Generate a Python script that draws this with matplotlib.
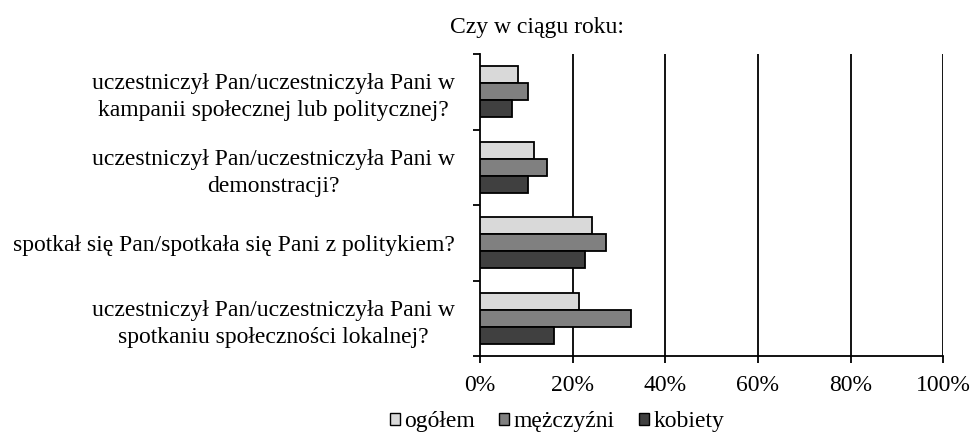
import numpy as np
import matplotlib.pyplot as plt
from matplotlib.patches import Patch

plt.rcParams['font.family'] = ['Liberation Serif', 'DejaVu Serif']

# categories, top to bottom
categories = [
    "uczestniczył Pan/uczestniczyła Pani w\nkampanii społecznej lub politycznej?",
    "uczestniczył Pan/uczestniczyła Pani w\ndemonstracji?",
    "spotkał się Pan/spotkała się Pani z politykiem?",
    "uczestniczył Pan/uczestniczyła Pani w\nspotkaniu społeczności lokalnej?",
]
series_names = ["ogółem", "mężczyźni", "kobiety"]
ogolem = [8.1, 11.7, 24.1, 21.3]
mezczyzni = [10.3, 14.4, 27.1, 32.7]
kobiety = [7.0, 10.4, 22.6, 15.9]
x_ticks = [0, 20, 40, 60, 80, 100]
x_labels = ["0%", "20%", "40%", "60%", "80%", "100%"]

colors = ["#d9d9d9", "#808080", "#404040"]
fs = 17

fig = plt.figure(figsize=(9.73, 4.38), dpi=100)
ax = fig.add_axes([480 / 973, 1 - 356 / 438, (943.3 - 480) / 973, (356 - 54) / 438])

n = len(categories)
y = np.arange(n)
h = 0.225
for k, vals in enumerate([ogolem, mezczyzni, kobiety]):
    ax.barh(y + (k - 1) * h, vals, height=h, color=colors[k],
            edgecolor="black", linewidth=1.3, zorder=3)

ax.set_xlim(0, 100)
ax.set_ylim(n - 0.5, -0.5)

for xv in x_ticks[1:]:
    ax.axvline(xv, color="black", linewidth=1.3, zorder=1)

ax.set_xticks(x_ticks)
ax.set_xticklabels(x_labels, fontsize=fs)
ax.tick_params(axis="x", direction="out", length=5, width=1.3, pad=9)

ax.set_yticks(y)
ax.set_yticklabels(categories, fontsize=fs, multialignment="center", linespacing=1.38)
ax.tick_params(axis="y", which="major", length=0, pad=18)
ax.set_yticks(np.arange(n + 1) - 0.5, minor=True)
ax.tick_params(axis="y", which="minor", direction="out", length=5, width=1.3)

for s in ["top", "right"]:
    ax.spines[s].set_visible(False)
for s in ["left", "bottom"]:
    ax.spines[s].set_linewidth(1.3)

fig.text(537 / 973, 1 - 27 / 438, "Czy w ciągu roku:", ha="center", va="center", fontsize=fs)

handles = [Patch(facecolor=c, edgecolor="black", linewidth=1.0) for c in colors]
fig.legend(handles, series_names, loc="center", bbox_to_anchor=(557 / 973, 1 - 422 / 438),
           ncol=3, frameon=False, fontsize=fs, handlelength=0.43, handleheight=0.43,
           handletextpad=0.2, columnspacing=1.0, borderpad=0)

fig.savefig("out.png", dpi=100)
